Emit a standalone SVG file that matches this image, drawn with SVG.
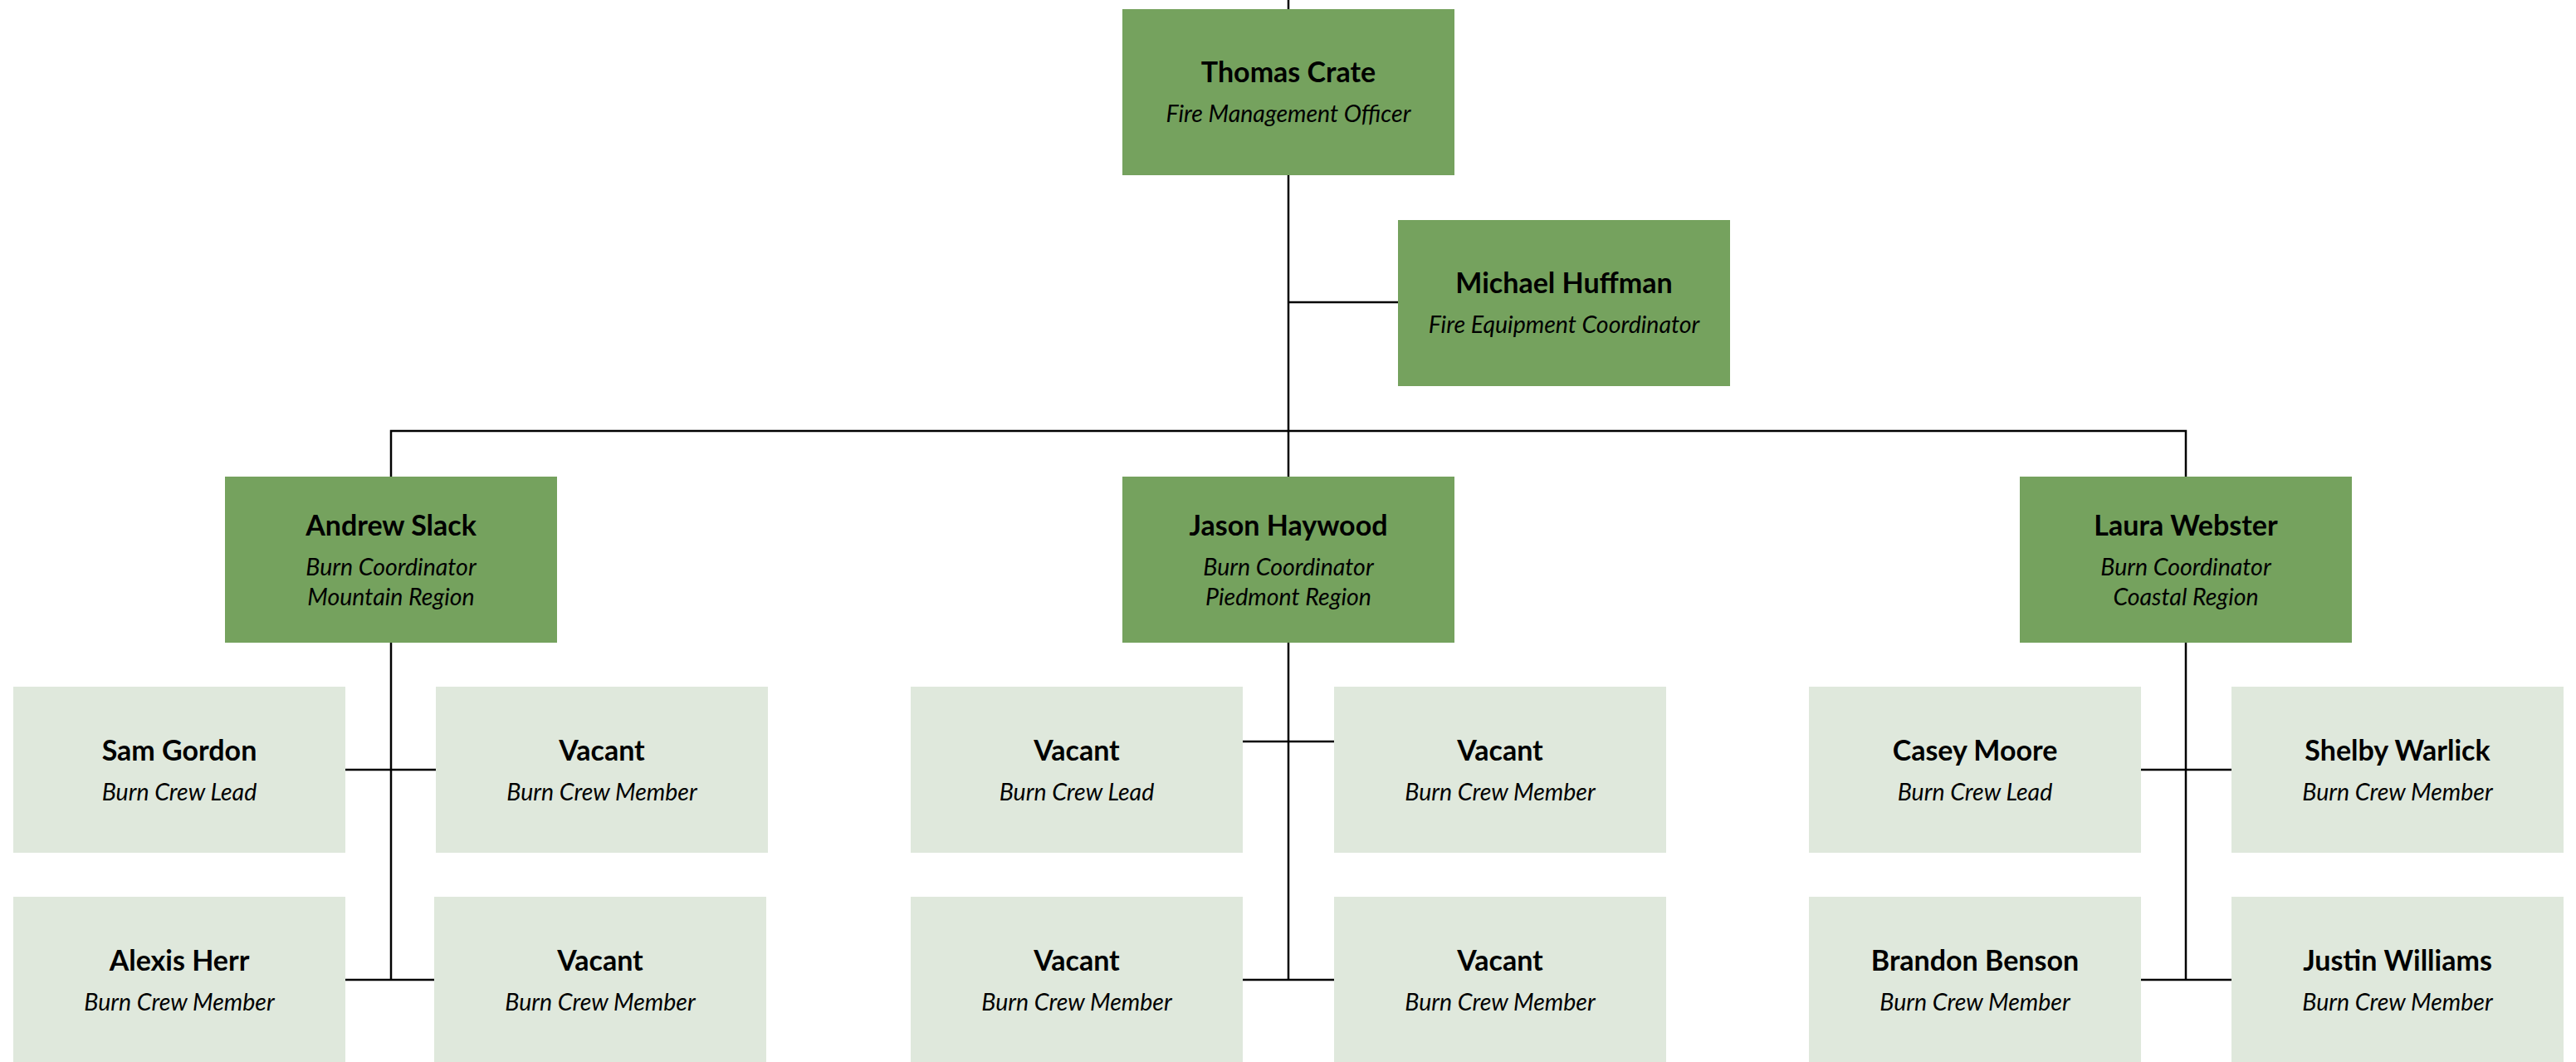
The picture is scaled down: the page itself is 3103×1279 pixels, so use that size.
<svg xmlns="http://www.w3.org/2000/svg" width="3103" height="1279" viewBox="0 0 3103 1279">
<style>
.dk{fill:#75a25e}
.lt{fill:#dfe8dc}
.nm{font-family:Lato,"Liberation Sans",sans-serif;font-weight:bold;font-size:34px;fill:#000;text-anchor:middle}
.tt{font-family:Lato,"Liberation Sans",sans-serif;font-style:italic;font-size:28.5px;fill:#000;text-anchor:middle}
.cn{stroke:#000;stroke-width:2.5;fill:none}
</style>
<rect width="3103" height="1279" fill="#fff"/>
<g id="connectors" class="cn">
<line x1="1552" y1="0" x2="1552" y2="11"/>
<line x1="1552" y1="211" x2="1552" y2="574"/>
<line x1="1552" y1="364" x2="1684" y2="364"/>
<polyline points="471,574 471,519 2633,519 2633,574"/>
<line x1="471" y1="774" x2="471" y2="1180"/>
<line x1="416" y1="927" x2="525" y2="927"/>
<line x1="416" y1="1180" x2="523" y2="1180"/>
<line x1="1552" y1="774" x2="1552" y2="1180"/>
<line x1="1497" y1="893" x2="1607" y2="893"/>
<line x1="1497" y1="1180" x2="1607" y2="1180"/>
<line x1="2633" y1="774" x2="2633" y2="1180"/>
<line x1="2579" y1="927" x2="2688" y2="927"/>
<line x1="2579" y1="1180" x2="2688" y2="1180"/>
</g>
<g id="thomas"><rect class="dk" x="1352" y="11" width="400" height="200"/><text class="nm" x="1552" y="99">Thomas Crate</text><text class="tt" x="1552" y="147">Fire Management Officer</text></g>
<g id="michael"><rect class="dk" x="1684" y="265" width="400" height="200"/><text class="nm" x="1884" y="353">Michael Huffman</text><text class="tt" x="1884" y="401">Fire Equipment Coordinator</text></g>
<g id="andrew"><rect class="dk" x="271" y="574" width="400" height="200"/><text class="nm" x="471" y="645">Andrew Slack</text><text class="tt" x="471" y="693">Burn Coordinator</text><text class="tt" x="471" y="729">Mountain Region</text></g>
<g id="jason"><rect class="dk" x="1352" y="574" width="400" height="200"/><text class="nm" x="1552" y="645">Jason Haywood</text><text class="tt" x="1552" y="693">Burn Coordinator</text><text class="tt" x="1552" y="729">Piedmont Region</text></g>
<g id="laura"><rect class="dk" x="2433" y="574" width="400" height="200"/><text class="nm" x="2633" y="645">Laura Webster</text><text class="tt" x="2633" y="693">Burn Coordinator</text><text class="tt" x="2633" y="729">Coastal Region</text></g>
<g id="sam"><rect class="lt" x="16" y="827" width="400" height="200"/><text class="nm" x="216" y="916">Sam Gordon</text><text class="tt" x="216" y="964">Burn Crew Lead</text></g>
<g id="vacant-a1"><rect class="lt" x="525" y="827" width="400" height="200"/><text class="nm" x="725" y="916">Vacant</text><text class="tt" x="725" y="964">Burn Crew Member</text></g>
<g id="alexis"><rect class="lt" x="16" y="1080" width="400" height="200"/><text class="nm" x="216" y="1169">Alexis Herr</text><text class="tt" x="216" y="1217">Burn Crew Member</text></g>
<g id="vacant-a2"><rect class="lt" x="523" y="1080" width="400" height="200"/><text class="nm" x="723" y="1169">Vacant</text><text class="tt" x="723" y="1217">Burn Crew Member</text></g>
<g id="vacant-j1"><rect class="lt" x="1097" y="827" width="400" height="200"/><text class="nm" x="1297" y="916">Vacant</text><text class="tt" x="1297" y="964">Burn Crew Lead</text></g>
<g id="vacant-j2"><rect class="lt" x="1607" y="827" width="400" height="200"/><text class="nm" x="1807" y="916">Vacant</text><text class="tt" x="1807" y="964">Burn Crew Member</text></g>
<g id="vacant-j3"><rect class="lt" x="1097" y="1080" width="400" height="200"/><text class="nm" x="1297" y="1169">Vacant</text><text class="tt" x="1297" y="1217">Burn Crew Member</text></g>
<g id="vacant-j4"><rect class="lt" x="1607" y="1080" width="400" height="200"/><text class="nm" x="1807" y="1169">Vacant</text><text class="tt" x="1807" y="1217">Burn Crew Member</text></g>
<g id="casey"><rect class="lt" x="2179" y="827" width="400" height="200"/><text class="nm" x="2379" y="916">Casey Moore</text><text class="tt" x="2379" y="964">Burn Crew Lead</text></g>
<g id="shelby"><rect class="lt" x="2688" y="827" width="400" height="200"/><text class="nm" x="2888" y="916">Shelby Warlick</text><text class="tt" x="2888" y="964">Burn Crew Member</text></g>
<g id="brandon"><rect class="lt" x="2179" y="1080" width="400" height="200"/><text class="nm" x="2379" y="1169">Brandon Benson</text><text class="tt" x="2379" y="1217">Burn Crew Member</text></g>
<g id="justin"><rect class="lt" x="2688" y="1080" width="400" height="200"/><text class="nm" x="2888" y="1169">Justin Williams</text><text class="tt" x="2888" y="1217">Burn Crew Member</text></g>
</svg>
